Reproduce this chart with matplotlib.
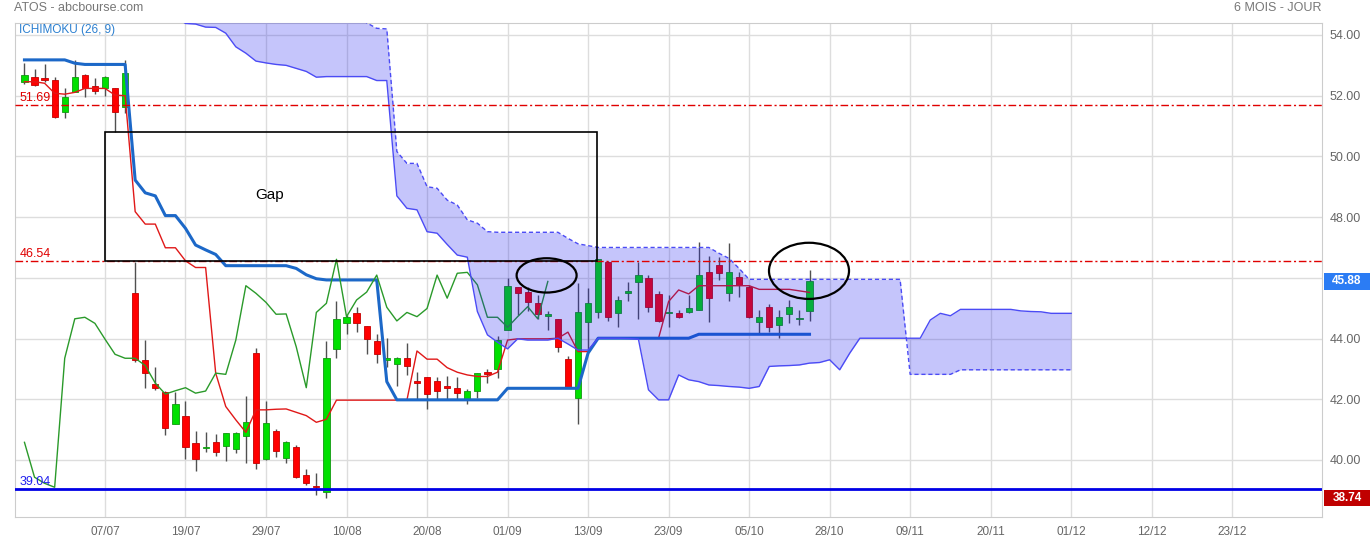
import matplotlib.pyplot as plt
import matplotlib.transforms as mtransforms
import numpy as np
from matplotlib.patches import Rectangle, Ellipse

plt.rcParams['font.family'] = ['Liberation Sans', 'DejaVu Sans']

# trading day index, 0 = 07/07
days = np.arange(-8, 71)

opens = [52.46, 52.63, 52.56, 52.52, 51.47, 52.13, 52.68, 52.32, 52.24, 52.24, 51.64,
         45.49, 43.30, 42.49, 42.25, 41.18, 41.45, 40.55, 40.39, 40.58, 40.47,
         40.35, 40.80, 43.51, 40.02, 40.96, 40.08, 40.42, 39.49, 39.11, 38.96,
         43.65, 44.50, 44.83, 44.41, 43.92, 43.28, 43.15, 43.35, 42.60, 42.72,
         42.61, 42.44, 42.38, 42.00, 42.28, 42.90, 42.99, 44.28, 45.69, 45.52,
         45.16, 44.74, 44.63, 43.33, 42.03, 44.56, 44.89, 46.53,
         44.83, 45.50, 45.85, 45.98, 45.46, 44.83, 44.83, 44.86, 44.94, 46.18,
         46.42, 45.49, 46.04, 45.69, 44.53, 45.03, 44.45, 44.80, 44.63, 44.91]
closes = [52.68, 52.35, 52.52, 51.29, 51.97, 52.61, 52.24, 52.17, 52.63, 51.47, 52.76,
          43.30, 42.86, 42.36, 41.04, 41.85, 40.42, 40.02, 40.42, 40.25, 40.88,
          40.88, 41.24, 39.91, 41.21, 40.31, 40.58, 39.43, 39.23, 39.10, 43.35,
          44.65, 44.70, 44.50, 43.98, 43.48, 43.35, 43.35, 43.11, 42.53, 42.17,
          42.28, 42.38, 42.20, 42.27, 42.86, 42.82, 43.95, 45.74, 45.49, 45.19,
          44.80, 44.81, 43.73, 42.38, 44.86, 45.16, 46.61, 44.72,
          45.27, 45.53, 46.09, 45.03, 44.58, 44.86, 44.72, 44.99, 46.09, 45.33,
          46.15, 46.18, 45.77, 44.70, 44.70, 44.37, 44.72, 45.05, 44.65, 45.88]
highs = [53.07, 52.88, 53.04, 52.60, 52.25, 53.18, 52.70, 52.57, 52.66, 52.25, 53.16,
         46.53, 43.95, 43.07, 42.26, 42.25, 41.94, 40.96, 40.93, 40.85, 40.89,
         40.93, 42.11, 43.68, 41.94, 41.01, 40.64, 40.49, 39.69, 39.56, 43.92,
         45.22, 44.78, 45.05, 44.42, 44.14, 44.01, 43.40, 43.84, 42.89, 42.73,
         42.72, 42.75, 42.72, 42.33, 42.88, 42.99, 44.09, 45.98, 45.70, 45.70,
         45.44, 44.92, 44.64, 43.41, 45.82, 45.65, 46.62, 46.55,
         45.40, 45.85, 46.53, 46.09, 45.55, 45.44, 44.94, 45.44, 47.19, 46.72,
         46.70, 47.14, 46.20, 45.77, 44.94, 45.14, 44.94, 45.27, 44.94, 46.26]
lows = [52.37, 52.33, 52.45, 51.25, 51.26, 52.12, 51.97, 52.05, 51.98, 50.82, 51.42,
        43.24, 42.36, 42.31, 40.82, 41.17, 40.02, 39.62, 40.27, 40.14, 39.98,
        40.24, 39.91, 39.69, 40.00, 40.09, 39.91, 39.42, 39.18, 38.83, 38.74,
        43.37, 44.14, 44.20, 43.49, 43.21, 43.07, 42.42, 42.80, 42.00, 41.67,
        42.00, 42.00, 42.00, 41.84, 42.03, 42.53, 42.69, 44.27, 44.78, 44.90,
        44.63, 44.28, 43.54, 42.37, 41.18, 43.54, 44.67, 44.58,
        44.39, 45.22, 44.63, 44.89, 44.56, 44.39, 44.67, 44.85, 44.93, 44.56,
        45.93, 45.22, 45.38, 44.69, 44.17, 44.20, 44.01, 44.50, 44.43, 44.59]

# ichimoku lines
tenkan = [52.46, 52.46, 52.41, 52.08, 52.05, 52.11, 52.24, 52.24, 52.24, 52.02, 52.00,
          48.18, 47.77, 47.77, 46.99, 46.99, 46.56, 46.34, 46.34, 42.86, 41.76,
          41.32, 40.91, 41.65, 41.65, 41.67, 41.68, 41.57, 41.46, 41.24, 41.34,
          41.97, 41.97, 41.97, 41.97, 41.97, 41.97, 41.97, 41.97, 43.59, 43.32,
          43.32, 43.04, 42.89, 42.80, 42.75, 42.75, 42.89, 43.95, 43.99, 43.99,
          43.99, 43.99, 44.01, 44.21, 43.57, 43.57, 44.01, 44.01,
          44.01, 44.01, 44.01, 44.01, 44.01, 45.22, 45.60, 45.47, 45.74, 45.74,
          45.74, 45.74, 45.74, 45.74, 45.62, 45.62, 45.62, 45.62, 45.57, 45.52]
kijun = [53.18, 53.18, 53.18, 53.18, 53.18, 53.07, 53.03, 53.03, 53.03, 53.03, 53.03,
         49.22, 48.80, 48.70, 48.05, 48.05, 47.63, 47.08, 46.92, 46.77, 46.40,
         46.40, 46.40, 46.40, 46.40, 46.40, 46.40, 46.31, 46.10, 45.97, 45.93,
         45.93, 45.93, 45.93, 45.93, 45.93, 42.58] + [41.98] * 11 + [42.36] * 8 + \
        [43.52, 44.01, 44.01] + [44.01] * 8 + [44.14] * 12

# cloud (senkou spans, already shifted forward)
cloud_days = np.arange(6, 97)
span_a = [54.80, 54.60, 54.38, 54.36, 54.26, 54.25, 54.06, 53.61, 53.40, 53.14,
          53.08, 53.03, 53.00, 52.90, 52.80, 52.61, 52.63, 52.63, 52.63, 52.63,
          52.63, 52.50, 52.50, 48.70, 48.29, 48.24, 47.52, 47.47, 47.10, 46.75,
          46.68, 44.89, 44.12, 43.88, 43.66, 43.99, 43.95, 43.95, 43.95, 44.01,
          43.82, 43.62, 43.62, 44.01, 44.01, 44.01, 44.00, 43.98, 42.31, 41.98,
          41.98, 42.80, 42.64, 42.58, 42.47, 42.45, 42.42, 42.40, 42.36, 42.42,
          43.08, 43.10, 43.11, 43.13, 43.19, 43.21, 43.30, 42.97, 43.52, 44.01,
          44.01, 44.01, 44.01, 44.01, 44.01, 44.01, 44.61, 44.83, 44.75, 44.96,
          44.96, 44.96, 44.96, 44.96, 44.96, 44.91, 44.89, 44.88, 44.83, 44.83,
          44.83]
span_b = [55.00] * 20 + [54.40, 54.22, 54.20, 50.16, 49.77, 49.77, 49.00, 48.95,
                         48.56, 48.40, 47.91, 47.80, 47.52] + [47.50] * 7 + \
         [47.30, 47.12, 47.06] + [47.00] * 12 + [46.81, 46.64, 46.31, 45.95] + \
         [45.95] * 15 + [42.82] * 5 + [42.97] * 12

tick_pos = [0, 8, 16, 24, 32, 40, 48, 56, 64, 72, 80, 88, 96, 104, 112]
tick_labels = ['07/07', '19/07', '29/07', '10/08', '20/08', '01/09', '13/09', '23/09',
               '05/10', '28/10', '09/11', '20/11', '01/12', '12/12', '23/12']
y_ticks = [40, 42, 44, 46, 48, 50, 52, 54]

level_high = 51.69
level_gap = 46.54
level_low = 39.04
last_price = 45.88
min_price = 38.74


def draw_candles(ax):
    for d, o, h, l, c in zip(days, opens, highs, lows, closes):
        up = c >= o
        face = '#00e000' if up else '#ff0000'
        edge = '#109a10' if up else '#c40000'
        ax.vlines(d, l, h, color='#505050', lw=1, zorder=2)
        ax.add_patch(Rectangle((d - 0.31, min(o, c)), 0.62, max(abs(c - o), 0.05),
                               facecolor=face, edgecolor=edge, lw=0.6, zorder=2.5))


fig = plt.figure(figsize=(13.71, 5.41), dpi=100)
ax = fig.add_axes([14.7 / 1371, 24.3 / 541, 1307.6 / 1371, 494 / 541])
ax.set_xlim(-8.97, 120.95)
ax.set_ylim(38.13, 54.405)

draw_candles(ax)

# ichimoku lines
ax.plot(days, tenkan, color='#e01818', lw=1, zorder=3)
ax.plot(days, kijun, color='#1c68c8', lw=2.2, zorder=3)
ax.plot(days[:-26], closes[26:], color='#2a9a2a', lw=1, zorder=3)  # chikou

# cloud drawn over the candles, semi transparent
ax.fill_between(cloud_days, span_a, span_b, color='#1a1af0', alpha=0.25, lw=0, zorder=4)
ax.plot(cloud_days, span_a, color='#4b4bf5', lw=1, zorder=4.5)
ax.plot(cloud_days, span_b, color='#4b4bf5', lw=1, ls=(0, (3, 2)), zorder=4.5)

# horizontal levels
dashdot = (0, (5.5, 2, 1.5, 2))
ax.axhline(level_high, color='#e00000', lw=1, ls=dashdot, zorder=5)
ax.axhline(level_gap, color='#e00000', lw=1, ls=dashdot, zorder=5)
ax.axhline(level_low, color='#0000e6', lw=2, zorder=5)

trans = mtransforms.blended_transform_factory(ax.transAxes, ax.transData)
for val, col in [(level_high, '#e00000'), (level_gap, '#e00000'), (level_low, '#2020ee')]:
    ax.annotate('%.2f' % val, xy=(0.0035, val), xycoords=trans, xytext=(0, 1),
                textcoords='offset points', color=col, fontsize=9, va='bottom', zorder=6)

# annotations: gap box and ellipses
ax.add_patch(Rectangle((0, level_gap), 48.9, 50.80 - level_gap, fill=False,
                       edgecolor='black', lw=1.2, zorder=6))
ax.text(16.4, 48.73, 'Gap', ha='center', va='center', fontsize=11, color='black', zorder=6)
ax.add_patch(Ellipse((43.88, 46.08), 5.96, 1.13, fill=False, edgecolor='black', lw=1.6, zorder=6))
ax.add_patch(Ellipse((69.95, 46.23), 7.95, 1.85, fill=False, edgecolor='black', lw=1.6, zorder=6))

ax.text(0.0035, 0.985, 'ICHIMOKU (26, 9)', transform=ax.transAxes, color='#2a7fd0',
        fontsize=8.5, va='center', ha='left', zorder=6)

# axes styling
ax.set_xticks(tick_pos)
ax.set_xticklabels(tick_labels)
ax.set_yticks(y_ticks)
ax.set_yticklabels(['%.2f' % v for v in y_ticks])
ax.yaxis.tick_right()
ax.tick_params(axis='y', length=0, pad=5, labelsize=9, labelcolor='#666666')
ax.tick_params(axis='x', length=0, pad=7, labelsize=8.5, labelcolor='#666666')
ax.grid(True, color='#dddddd', lw=1)
ax.set_axisbelow(True)
for sp in ax.spines.values():
    sp.set_color('#cccccc')

# price badges on the right
fig_trans = mtransforms.blended_transform_factory(fig.transFigure, ax.transData)
for val, col in [(last_price, '#2b7cf4'), (min_price, '#c00000')]:
    ax.add_patch(Rectangle((1324 / 1371, val - 0.27), 46 / 1371, 0.54, transform=fig_trans,
                           facecolor=col, edgecolor='none', clip_on=False, zorder=7))
    ax.text(1347 / 1371, val, '%.2f' % val, transform=fig_trans, ha='center', va='center',
            color='white', fontweight='bold', fontsize=8.5, zorder=8, clip_on=False)

fig.text(14 / 1371, 1 - 8 / 541, 'ATOS - abcbourse.com', color='#777777', fontsize=9, va='center')
fig.text(1322 / 1371, 1 - 8 / 541, '6 MOIS - JOUR', color='#777777', fontsize=9,
         va='center', ha='right')

fig.savefig('out.png', dpi=100)
